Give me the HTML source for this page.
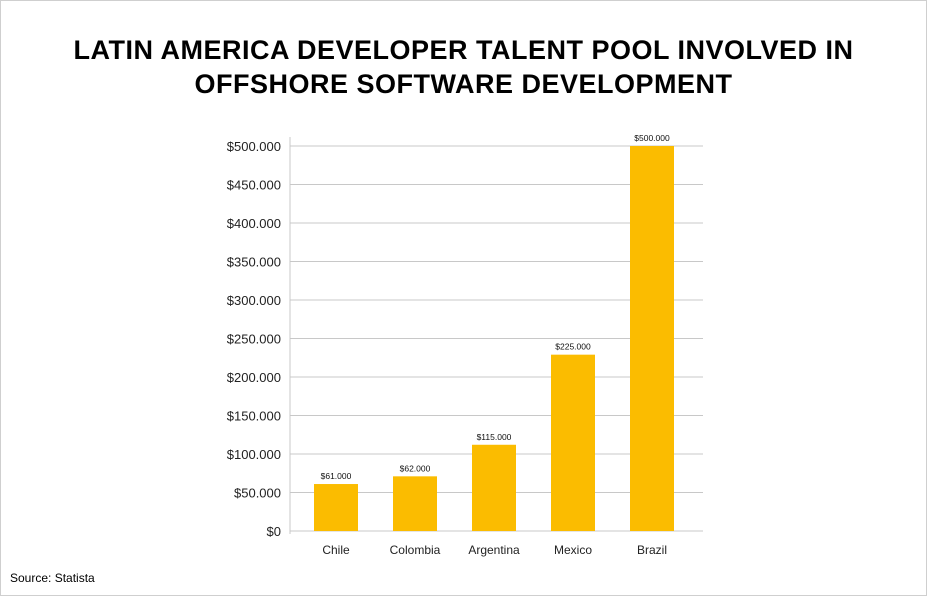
<!DOCTYPE html>
<html><head><meta charset="utf-8"><style>
html,body{margin:0;padding:0;background:#fff}
#wrap{position:relative;width:925px;height:594px;border:1px solid #cfcfcf;overflow:hidden;font-family:"Liberation Sans",sans-serif}
#title{position:absolute;left:0;top:32px;width:925px;text-align:center;font-weight:bold;font-size:27px;line-height:34px;color:#000;letter-spacing:0.5px}
#src{position:absolute;left:9px;top:570px;font-size:12px;color:#000}
</style></head><body>
<div id="wrap">
<div id="title">LATIN AMERICA DEVELOPER TALENT POOL INVOLVED IN<br>OFFSHORE SOFTWARE DEVELOPMENT</div>
<svg id="chart" width="925" height="594" style="position:absolute;left:0;top:0"></svg>
<div id="src">Source: Statista</div>
</div>
<script>
const categories=["Chile","Colombia","Argentina","Mexico","Brazil"];
const values=[61000,71000,112000,229000,500000];
const valueLabels=["$61.000","$62.000","$115.000","$225.000","$500.000"];
const yTicks=[0,50000,100000,150000,200000,250000,300000,350000,400000,450000,500000];
const yTickLabels=["$0","$50.000","$100.000","$150.000","$200.000","$250.000","$300.000","$350.000","$400.000","$450.000","$500.000"];
const svg=document.getElementById('chart');
const NS='http://www.w3.org/2000/svg';
const x0=289,x1=702,y0=530,yTop=145,vmax=500000;
function y(v){return y0-(v/vmax)*(y0-yTop);}
function xc(i){return 335+i*79;}
function mk(t,a){const e=document.createElementNS(NS,t);for(const k in a)e.setAttribute(k,a[k]);svg.appendChild(e);return e;}
yTicks.forEach((t,i)=>{
 const g=mk('line',{x1:x0,x2:x1,y1:y(t),y2:y(t),stroke:'#c8c8c8','stroke-width':1});
 
 
 const l=mk('text',{x:280,y:y(t)+5,'text-anchor':'end','font-size':13,fill:'#222','font-family':'Liberation Sans, sans-serif'});
 l.textContent=yTickLabels[i];
 
 
});
const ax=mk('line',{x1:x0,x2:x0,y1:136,y2:y0+3,stroke:'#c8c8c8','stroke-width':1});


categories.forEach((c,i)=>{
 const b=mk('rect',{x:xc(i)-22,y:y(values[i]),width:44,height:y0-y(values[i]),fill:'#fbbc00'});
 
 
 const v=mk('text',{x:xc(i),y:y(values[i])-5,'text-anchor':'middle','font-size':8.5,fill:'#111','font-family':'Liberation Sans, sans-serif'});
 v.textContent=valueLabels[i];
 
 
 const t=mk('text',{x:xc(i),y:553,'text-anchor':'middle','font-size':12,fill:'#222','font-family':'Liberation Sans, sans-serif'});
 t.textContent=c;
 
 
});
</script>
</body></html>
